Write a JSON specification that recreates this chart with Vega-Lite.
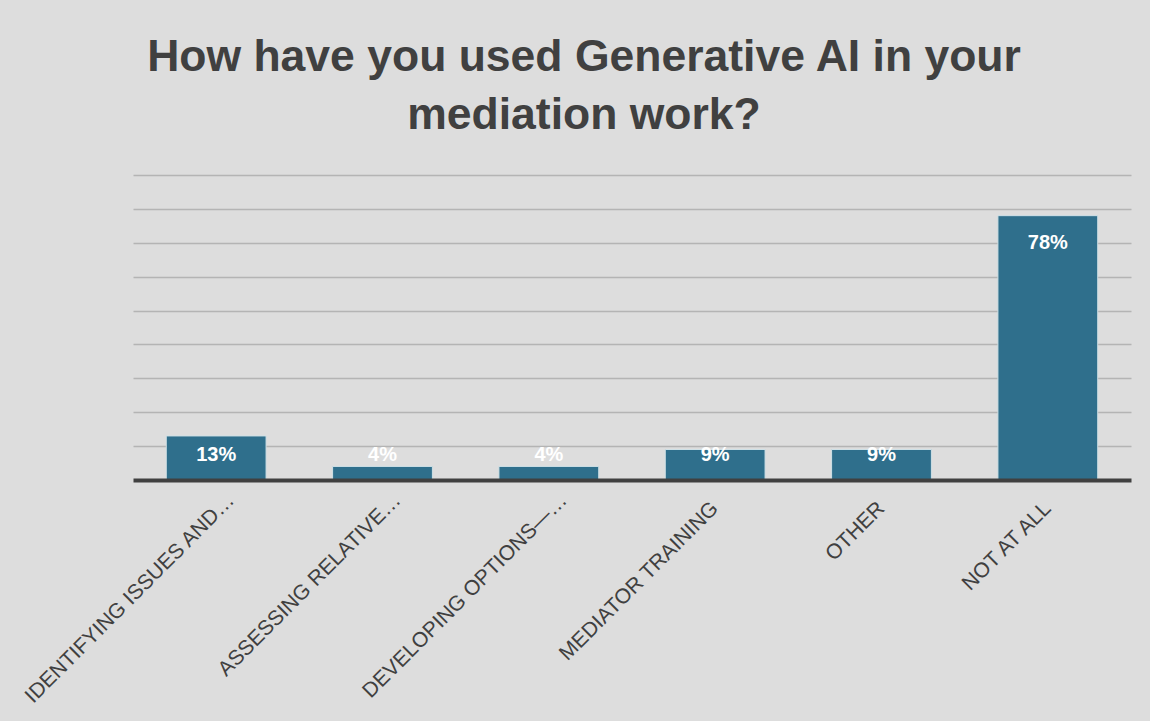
{
  "$schema": "https://vega.github.io/schema/vega-lite/v6.json",
  "width": 998,
  "height": 305,
  "autosize": {"type": "none"},
  "padding": {"left": 133, "top": 175, "right": 19, "bottom": 241},
  "background": "#dddddd",
  "title": {
    "text": ["How have you used Generative AI in your", "mediation work?"],
    "font": "Liberation Sans",
    "fontSize": 44.5,
    "fontWeight": "bold",
    "color": "#404040",
    "lineHeight": 58,
    "anchor": "middle",
    "frame": "group",
    "dx": -48,
    "offset": 37
  },
  "config": {
    "view": {"stroke": null},
    "font": "Liberation Sans"
  },
  "data": {
    "values": [
      {"category": "IDENTIFYING ISSUES AND…", "value": 0.13},
      {"category": "ASSESSING RELATIVE…", "value": 0.04},
      {"category": "DEVELOPING OPTIONS—…", "value": 0.04},
      {"category": "MEDIATOR TRAINING", "value": 0.09},
      {"category": "OTHER", "value": 0.09},
      {"category": "NOT AT ALL", "value": 0.78}
    ]
  },
  "encoding": {
    "x": {
      "field": "category",
      "type": "nominal",
      "sort": null,
      "scale": {"paddingInner": 0.4, "paddingOuter": 0.2},
      "axis": {
        "title": null,
        "labelAngle": -45,
        "labelAlign": "right",
        "labelBaseline": "middle",
        "labelPadding": {"condition": {"test": "indexof(datum.label, '…') >= 0", "value": 17}, "value": 25},
        "labelOffset": {"condition": {"test": "indexof(datum.label, '…') >= 0", "value": 15}, "value": 0},
        "labelFontSize": 21,
        "labelColor": "#404040",
        "labelFont": "Liberation Sans",
        "labelLimit": 400,
        "ticks": false,
        "domain": true,
        "domainColor": "#404040",
        "domainWidth": 4,
        "zindex": 1
      }
    },
    "y": {
      "field": "value",
      "type": "quantitative",
      "scale": {"domain": [0, 0.9], "nice": false},
      "axis": {
        "title": null,
        "labels": false,
        "ticks": false,
        "domain": false,
        "grid": true,
        "gridColor": "#b4b4b4",
        "gridWidth": 1.5,
        "values": [0.1, 0.2, 0.3, 0.4, 0.5, 0.6, 0.7, 0.8, 0.9]
      }
    }
  },
  "layer": [
    {
      "mark": {"type": "bar", "fill": "#2f6f8c", "stroke": "#cfe0e6", "strokeWidth": 1}
    },
    {
      "transform": [{"filter": "datum.value >= 0.2"}],
      "mark": {"type": "text", "color": "white", "fontSize": 20, "fontWeight": "bold", "baseline": "middle", "dy": 27},
      "encoding": {"text": {"field": "value", "type": "quantitative", "format": ".0%"}}
    },
    {
      "transform": [{"filter": "datum.value < 0.2"}],
      "mark": {"type": "text", "color": "white", "fontSize": 20, "fontWeight": "bold", "baseline": "middle"},
      "encoding": {
        "y": {"datum": 0.074},
        "text": {"field": "value", "type": "quantitative", "format": ".0%"}
      }
    }
  ]
}
